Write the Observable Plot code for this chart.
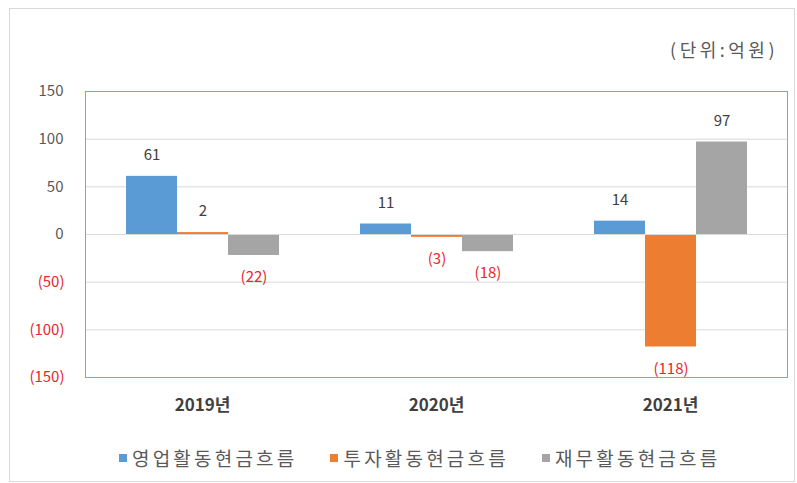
<!DOCTYPE html>
<html>
<head>
<meta charset="utf-8">
<script src="https://cdn.jsdelivr.net/npm/d3@7"></script>
<script src="https://cdn.jsdelivr.net/npm/@observablehq/plot@0.6"></script>
<style>
  html, body { margin: 0; padding: 0; background: #fff; }
  #wrap { position: relative; width: 797px; height: 483px; overflow: hidden; font-family: "Noto Sans CJK KR", sans-serif; }
  #border { position: absolute; left: 9px; top: 8px; width: 786px; height: 474px; border: 1px solid #d9d9d9; box-sizing: border-box; }
  #unit { position: absolute; right: 19px; top: 36px; font-size: 18px; color: #595959; letter-spacing: 3.5px; }
  #chart { position: absolute; left: 0; top: 0; }
  #legend { position: absolute; left: 119px; top: 444px; display: flex; gap: 33px; font-size: 19px; color: #595959; letter-spacing: 3.2px; }
  .item { display: flex; align-items: center; }
  .sw { width: 8px; height: 8px; margin-right: 5px; }
</style>
</head>
<body>
<div id="wrap">
  <div id="border"></div>
  <div id="chart"></div>
  <div id="unit">(단위:억원)</div>
  <div id="legend"></div>
</div>
<script>
const years = ["2019년", "2020년", "2021년"];
const series = ["영업활동현금흐름", "투자활동현금흐름", "재무활동현금흐름"];
const colors = ["#5b9bd5", "#ed7d31", "#a5a5a5"];
const operating = [61, 11, 14];
const investing = [2, -3, -118];
const financing = [-22, -18, 97];
const yTicks = [-150, -100, -50, 0, 50, 100, 150];

const valuesBySeries = [operating, investing, financing];
const rows = [];
years.forEach((yr, i) => {
  series.forEach((s, j) => rows.push({year: yr, series: s, value: valuesBySeries[j][i]}));
});
const fmt = d => d < 0 ? `(${-d})` : `${d}`;

const chart = Plot.plot({
  width: 797,
  height: 420,
  marginLeft: 85,
  marginRight: 10,
  marginTop: 91,
  marginBottom: 43,
  style: {fontFamily: "'Noto Sans CJK KR', sans-serif", fontSize: "14px", background: "transparent"},
  fx: {domain: years, padding: 0, label: null, axis: null},
  x: {domain: series, paddingInner: 0, paddingOuter: 0.76, axis: null},
  y: {domain: [-150, 150], axis: null},
  color: {domain: series, range: colors},
  marks: [
    Plot.gridY(yTicks, {stroke: "#d9d9d9", strokeOpacity: 1}),
    Plot.barY(rows, {fx: "year", x: "series", y: "value", fill: "series"}),
    Plot.ruleY([0], {stroke: "#d9d9d9"}),
    Plot.text(rows.filter(d => d.value >= 0), {fx: "year", x: "series", y: "value", text: d => fmt(d.value), dy: -21, lineAnchor: "middle", fill: "#404040", fontSize: 15}),
    Plot.text(rows.filter(d => d.value < 0), {fx: "year", x: "series", y: "value", text: d => fmt(d.value), dy: 22, lineAnchor: "middle", fill: "#e8262e", fontSize: 15}),
    Plot.axisY(yTicks.filter(d => d >= 0), {tickSize: 0, tickPadding: 22, tickFormat: fmt, fill: "#595959", fontSize: 15, label: null}),
    Plot.axisY(yTicks.filter(d => d < 0), {tickSize: 0, tickPadding: 21, tickFormat: fmt, fill: "#e8262e", fontSize: 15, label: null}),
    Plot.axisFx({anchor: "bottom", tickSize: 0, tickPadding: 21, fontWeight: "bold", fontSize: 17, fill: "#404040", label: null}),
    Plot.frame({facet: "super", stroke: "#7ea6cc"})
  ]
});
document.getElementById("chart").appendChild(chart);

const legend = document.getElementById("legend");
series.forEach((s, j) => {
  const item = document.createElement("div");
  item.className = "item";
  const sw = document.createElement("span");
  sw.className = "sw";
  sw.style.background = colors[j];
  const t = document.createElement("span");
  t.textContent = s;
  item.appendChild(sw);
  item.appendChild(t);
  legend.appendChild(item);
});
</script>
</body>
</html>
